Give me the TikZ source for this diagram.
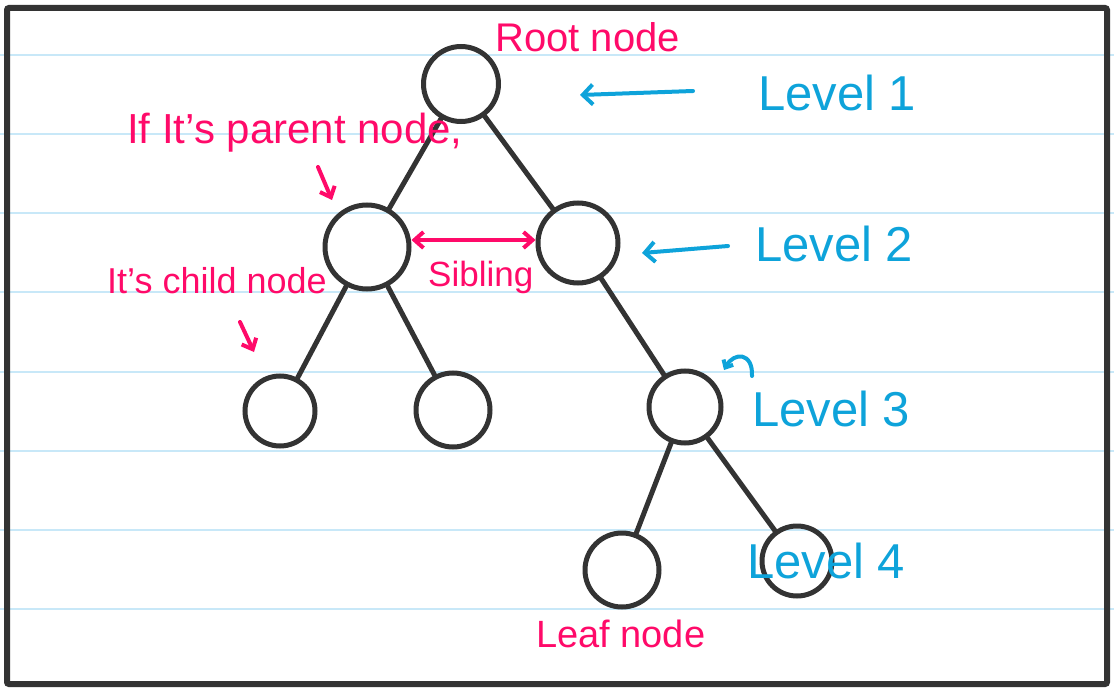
\documentclass[tikz,border=0pt]{standalone}
\usepackage{fontspec}
\setmainfont{Liberation Sans}
\usetikzlibrary{positioning,arrows.meta}

\definecolor{inkpink}{RGB}{255,10,105}
\definecolor{inkblue}{RGB}{14,163,218}
\definecolor{inkgrey}{RGB}{51,51,51}
\definecolor{ruleblue}{RGB}{200,232,248}

\begin{document}
\begin{tikzpicture}[x = 1pt, y = -1pt,
    treenode/.style = { draw = inkgrey, line width = 5pt, shape = circle, inner sep = 0pt },
    treeedge/.style = { draw = inkgrey, line width = 5pt, line cap = round },
    pinklabel/.style = { text = inkpink, anchor = base west, inner sep = 0pt },
    levellabel/.style = { text = inkblue, anchor = base west, inner sep = 0pt,
                          font = \fontsize{49}{49}\selectfont },
    pinkarrow/.style = { draw = inkpink, line width = 4pt, line cap = round,
                         -{Straight Barb[length = 9pt, width = 16pt]} },
    bluearrow/.style = { draw = inkblue, line width = 4pt, line cap = round,
                         -{Straight Barb[length = 10pt, width = 20pt]} }
  ]
  \useasboundingbox (0,0) rectangle (1114,690);

  % ruled paper
  \foreach \y in {55,134,213,292,372,451,530,609}
    \draw [ruleblue, line width = 2pt] (0,\y) -- (1114,\y);
  \draw [inkgrey, line width = 6pt, rounded corners = 2pt] (7,8) rectangle (1107,684);

  % the tree
  \node [treenode, minimum size = 75pt] (root) at (461,84) {};
  \node [treenode, minimum size = 84pt] (left) at (367,247) {};
  \node [treenode, minimum size = 80pt] (right) at (578,243) {};
  \node [treenode, minimum size = 70pt] (leftleft) at (280,411) {};
  \node [treenode, minimum size = 74pt] (leftright) at (453,410) {};
  \node [treenode, minimum size = 72pt] (rightchild) at (685,407) {};
  \node [treenode, minimum size = 74pt] (leafleft) at (622,570) {};
  \node [treenode, minimum size = 70pt] (leafright) at (797,561) {};

  \draw [treeedge] (root) -- (left);
  \draw [treeedge] (root) -- (right);
  \draw [treeedge] (left) -- (leftleft);
  \draw [treeedge] (left) -- (leftright);
  \draw [treeedge] (right) -- (rightchild);
  \draw [treeedge] (rightchild) -- (leafleft);
  \draw [treeedge] (rightchild) -- (leafright);

  % pink notes
  \node [pinklabel, font = \fontsize{40}{40}\selectfont] (rootnote) at (495,52) {Root node};
  \node [pinklabel, font = \fontsize{42}{42}\selectfont] (parentnote) at (127,143) {If It's parent node,};
  \node [pinklabel, font = \fontsize{36}{36}\selectfont] (childnote) at (107,293) {It's child node};
  \node [pinklabel, font = \fontsize{35}{35}\selectfont] (siblingnote) at (428,286) {Sibling};
  \node [pinklabel, font = \fontsize{38}{38}\selectfont] (leafnote) at (536,647) {Leaf node};

  \coordinate (parenttail) at (318,167);
  \coordinate (parenthead) at (332,200);
  \coordinate (childtail) at (240,322);
  \coordinate (childhead) at (254,352);
  \draw [pinkarrow] (parenttail) -- (parenthead);
  \draw [pinkarrow] (childtail) -- (childhead);
  \draw [pinkarrow, {Straight Barb[length = 9pt, width = 16pt]}-{Straight Barb[length = 9pt, width = 16pt]}]
    ([yshift = 7pt]left.east) -- ([yshift = 3pt]right.west);

  % blue levels
  \node [levellabel] (level1) at (758,111) {Level 1};
  \node [levellabel] (level2) at (755,261) {Level 2};
  \node [levellabel] (level3) at (752,426) {Level 3};
  \node [levellabel] (level4) at (747,578) {Level 4};

  \coordinate (onetail) at (693,91);
  \coordinate (onehead) at (580,95);
  \coordinate (twotail) at (728,246);
  \coordinate (twohead) at (642,253);
  \coordinate (threetail) at (752,376);
  \coordinate (threehead) at (724,370);
  \draw [bluearrow] (onetail) -- (onehead);
  \draw [bluearrow] (twotail) -- (twohead);
  \draw [bluearrow, -{Straight Barb[length = 6pt, width = 11pt]}]
    (threetail) .. controls (753,352) and (734,352) .. (threehead);

\end{tikzpicture}
\end{document}
